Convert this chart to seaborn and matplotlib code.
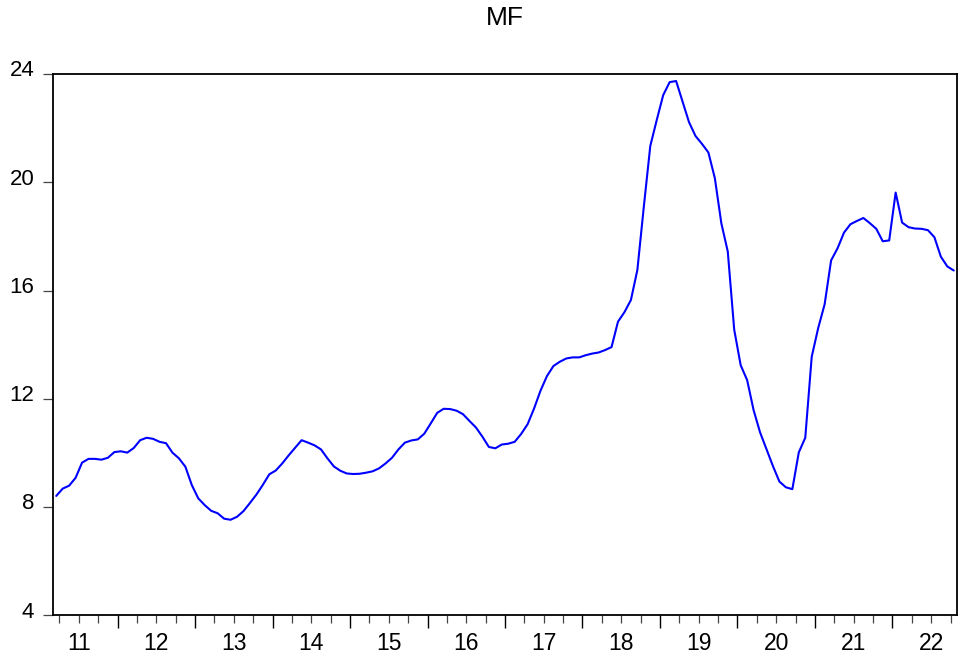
import matplotlib
matplotlib.use("Agg")
import matplotlib.pyplot as plt
import matplotlib.transforms as mtransforms
import numpy as np
import pandas as pd
import seaborn as sns
from matplotlib.ticker import FixedLocator, FixedFormatter, NullFormatter

# monthly series, Mar 2011 .. Oct 2022
mf = [8.41, 8.68, 8.79, 9.08, 9.64, 9.78, 9.78, 9.75, 9.82, 10.03,
      10.06, 10.01, 10.18, 10.47, 10.56, 10.52, 10.41, 10.36, 10.01, 9.80, 9.49, 8.81,
      8.32, 8.07, 7.86, 7.77, 7.57, 7.53, 7.64, 7.85, 8.15, 8.46, 8.82, 9.21,
      9.35, 9.61, 9.91, 10.19, 10.47, 10.38, 10.28, 10.13, 9.80, 9.50, 9.34, 9.24,
      9.22, 9.23, 9.27, 9.32, 9.43, 9.61, 9.82, 10.13, 10.38, 10.46, 10.50, 10.71,
      11.09, 11.48, 11.63, 11.62, 11.56, 11.43, 11.18, 10.94, 10.60, 10.22, 10.17, 10.31,
      10.34, 10.41, 10.70, 11.06, 11.64, 12.30, 12.84, 13.21, 13.37, 13.49, 13.53, 13.53,
      13.61, 13.67, 13.71, 13.80, 13.91, 14.85, 15.20, 15.65, 16.76, 19.10, 21.34, 22.30,
      23.22, 23.70, 23.74, 22.98, 22.22, 21.71, 21.42, 21.10, 20.15, 18.49, 17.44, 14.55,
      13.24, 12.69, 11.58, 10.76, 10.13, 9.51, 8.94, 8.73, 8.66, 10.02, 10.56, 13.55,
      14.61, 15.49, 17.11, 17.56, 18.14, 18.45, 18.57, 18.68, 18.49, 18.28, 17.82, 17.85,
      19.62, 18.51, 18.34, 18.29, 18.28, 18.23, 17.97, 17.25, 16.89, 16.74]
dates = pd.date_range("2011-03-01", periods=len(mf), freq="MS")
year_labels = ["11", "12", "13", "14", "15", "16", "17", "18", "19", "20", "21", "22"]
y_ticks = [4, 8, 12, 16, 20, 24]

df = pd.DataFrame({"date": dates, "MF": mf})
# decimal year, observation drawn at the middle of its month
df["t"] = df["date"].dt.year + (df["date"].dt.month - 0.5) / 12

sns.set_style("ticks")
plt.rcParams["font.family"] = ["Liberation Sans", "DejaVu Sans"]
plt.rcParams["text.color"] = "black"
plt.rcParams["xtick.labelsize"] = 16.5
plt.rcParams["ytick.labelsize"] = 16
plt.rcParams["xtick.labelcolor"] = "black"
plt.rcParams["ytick.labelcolor"] = "black"

fig = plt.figure(figsize=(9.69, 6.63), dpi=100)
ax = fig.add_axes([53 / 969, 1 - 615.3 / 663, (957 - 53) / 969, (615.3 - 74) / 663])

sns.lineplot(data=df, x="t", y="MF", color="#0000ff", linewidth=1.5, ax=ax)

ax.set_xlim(2011 + 2 / 12, 2022 + 10 / 12)
ax.set_ylim(4, 24)
ax.yaxis.set_major_locator(FixedLocator(y_ticks))
ax.yaxis.set_major_formatter(FixedFormatter([str(v) for v in y_ticks]))

first = 2011
years = np.arange(first + 1, first + len(year_labels))
ax.xaxis.set_major_locator(FixedLocator(years))
ax.xaxis.set_major_formatter(NullFormatter())
quarters = [y + q / 4 for y in range(first, first + len(year_labels)) for q in (1, 2, 3)]
qlabels = [year_labels[int(q) - first] if abs(q % 1 - 0.5) < 1e-6 else "" for q in quarters]
ax.xaxis.set_minor_locator(FixedLocator(quarters))
ax.xaxis.set_minor_formatter(FixedFormatter(qlabels))

ax.tick_params(axis="x", which="major", length=9.4, width=1.0, color="black", direction="out")
ax.tick_params(axis="x", which="minor", length=5.8, width=0.9, color="#444444",
               direction="out", pad=6, labelsize=16.5, labelcolor="black")
ax.tick_params(axis="y", which="major", length=7.2, width=0.9, color="#444444",
               direction="out", pad=6.3, labelsize=16, labelcolor="black")

for s in ax.spines.values():
    s.set_visible(True)
    s.set_color("black")
    s.set_linewidth(1.3)

ax.set_xlabel("")
ax.set_ylabel("")
fig.text(505 / 969, 1 - 25 / 663, "MF", fontsize=19, ha="center", va="baseline", color="black")

# y labels sit slightly above their ticks
fig.canvas.draw()
shift = mtransforms.ScaledTranslation(0, 4 / 72, fig.dpi_scale_trans)
for tick in ax.yaxis.get_major_ticks():
    tick.label1.set_transform(tick.label1.get_transform() + shift)

fig.savefig("out.png", dpi=100)
